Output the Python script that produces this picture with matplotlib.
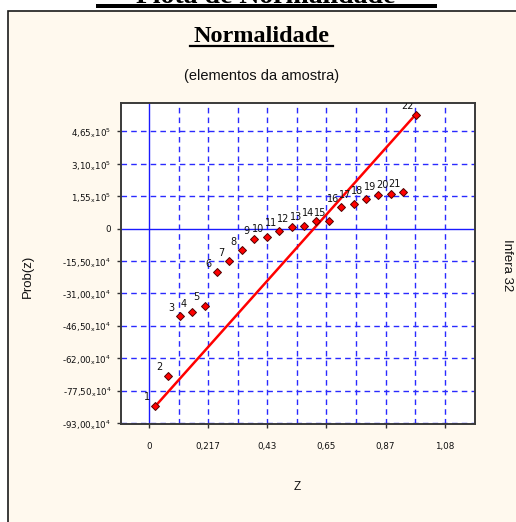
import matplotlib
matplotlib.use("Agg")
import matplotlib.pyplot as plt
from matplotlib.patches import Rectangle
from matplotlib.lines import Line2D

# ---- data ----
point_labels = [str(i) for i in range(1, 23)]
z_values = [0.023, 0.068, 0.114, 0.159, 0.205, 0.250, 0.295, 0.341, 0.386, 0.432, 0.477,
            0.523, 0.568, 0.614, 0.659, 0.705, 0.750, 0.795, 0.841, 0.886, 0.932, 0.977]
prob_values = [-848000, -704000, -419000, -400000, -368000, -208000, -157000, -104000,
               -51000, -42000, -11500, 6000, 14000, 35000, 36000, 101000, 120000,
               141000, 160000, 166000, 173000, 544000]
line_z = [0.023, 0.977]
line_prob = [-850000, 545000]

x_ticks = [0, 0.2168, 0.4336, 0.6504, 0.8672, 1.084]
x_tick_labels = ["0", "0,217", "0,43", "0,65", "0,87", "1,08"]
y_ticks = [465000, 310000, 155000, 0, -155000, -310000, -465000, -620000, -775000, -930000]
y_tick_labels = [r"4,65$_{\mathsf{x}}$10$^{\mathsf{5}}$", r"3,10$_{\mathsf{x}}$10$^{\mathsf{5}}$",
                 r"1,55$_{\mathsf{x}}$10$^{\mathsf{5}}$", "0",
                 r"-15,50$_{\mathsf{x}}$10$^{\mathsf{4}}$", r"-31,00$_{\mathsf{x}}$10$^{\mathsf{4}}$",
                 r"-46,50$_{\mathsf{x}}$10$^{\mathsf{4}}$", r"-62,00$_{\mathsf{x}}$10$^{\mathsf{4}}$",
                 r"-77,50$_{\mathsf{x}}$10$^{\mathsf{4}}$", r"-93,00$_{\mathsf{x}}$10$^{\mathsf{4}}$"]
x_grid = [0.1084, 0.2168, 0.3252, 0.4336, 0.5420, 0.6504, 0.7588, 0.8672, 0.9756, 1.084]

W, H = 516, 522
fig = plt.figure(figsize=(W / 100, H / 100), dpi=100)
fig.patch.set_facecolor("white")
cream = "#FFF9EE"

# panel
fig.patches.append(Rectangle((7.5 / W, -0.05), 1.2, (H - 11) / H + 0.05, transform=fig.transFigure,
                             facecolor=cream, edgecolor="#1a1a1a", linewidth=1.2, zorder=-10))
# cut-off heading at very top
fig.text(266 / W, 1 - 3 / H, "Plota de Normalidade", ha="center", va="baseline",
         fontsize=20, fontweight="bold", family="Liberation Serif", color="black", zorder=1)
fig.patches.append(Rectangle((96 / W, 1 - 7.5 / H), (437 - 96) / W, 3.5 / H,
                             transform=fig.transFigure, facecolor="black", edgecolor="none",
                             zorder=2))

# titles
fig.text(262 / W, 1 - 36 / H, "Normalidade", ha="center", va="center",
         fontsize=17.5, fontweight="bold", family="Liberation Serif", color="black")
fig.lines.append(Line2D([190 / W, 333 / W], [1 - 45.5 / H, 1 - 45.5 / H], transform=fig.transFigure,
                        color="black", linewidth=1.6))
fig.text(262 / W, 1 - 76 / H, "(elementos da amostra)", ha="center", va="center",
         fontsize=10.5, family="Liberation Sans", color="#111111")
fig.text(28 / W, 1 - 276 / H, "Prob(z)", ha="center", va="center", rotation=90,
         fontsize=9.5, family="Liberation Sans", color="#111111")
fig.text(297 / W, 1 - 487 / H, "Z", ha="center", va="center",
         fontsize=8.5, family="Liberation Sans", color="#111111")
fig.text(507 / W, 1 - 265 / H, "Infera 32", ha="center", va="center", rotation=-90,
         fontsize=9.5, family="Liberation Sans", color="#111111")

ax = fig.add_axes([121 / W, 1 - 424 / H, (475 - 121) / W, (424 - 103) / H], zorder=5)
ax.set_facecolor("white")
ax.set_xlim(-0.1026, 1.195)
ax.set_ylim(-935000, 601000)

for gx in x_grid:
    ax.axvline(gx, color="#2a2aff", linestyle=(0, (4, 3)), linewidth=1.0, zorder=1)
for gy in y_ticks:
    if gy != 0:
        ax.axhline(gy, color="#2a2aff", linestyle=(0, (4, 3)), linewidth=1.0, zorder=1)
ax.axvline(0, color="#1a1aff", linewidth=1.0, zorder=1)
ax.axhline(0, color="#1a1aff", linewidth=1.0, zorder=1)

ax.plot(line_z, line_prob, color="red", linewidth=1.8, zorder=3)
ax.plot(z_values, prob_values, linestyle="none", marker="D", markersize=4.5,
        markerfacecolor="red", markeredgecolor="#500000", markeredgewidth=0.7, zorder=4)
for lab, zx, py in zip(point_labels, z_values, prob_values):
    ax.annotate(lab, (zx, py), xytext=(-6, 2.5), textcoords="offset points",
                ha="center", va="bottom", fontsize=7, color="#111111",
                annotation_clip=False, clip_on=True, zorder=5)

ax.set_xticks(x_ticks)
ax.set_xticklabels(x_tick_labels)
ax.set_yticks(y_ticks)
ax.set_yticklabels(y_tick_labels)
ax.tick_params(axis="x", length=3, width=1, color="#333333", pad=10, labelsize=6.3,
               labelcolor="#111111")
ax.tick_params(axis="y", length=3, width=1, color="#333333", pad=4, labelsize=6.3,
               labelcolor="#111111")
for s in ax.spines.values():
    s.set_color("#3a3a3a")
    s.set_linewidth(1.4)

fig.savefig("out.png", dpi=100, facecolor=fig.get_facecolor())
